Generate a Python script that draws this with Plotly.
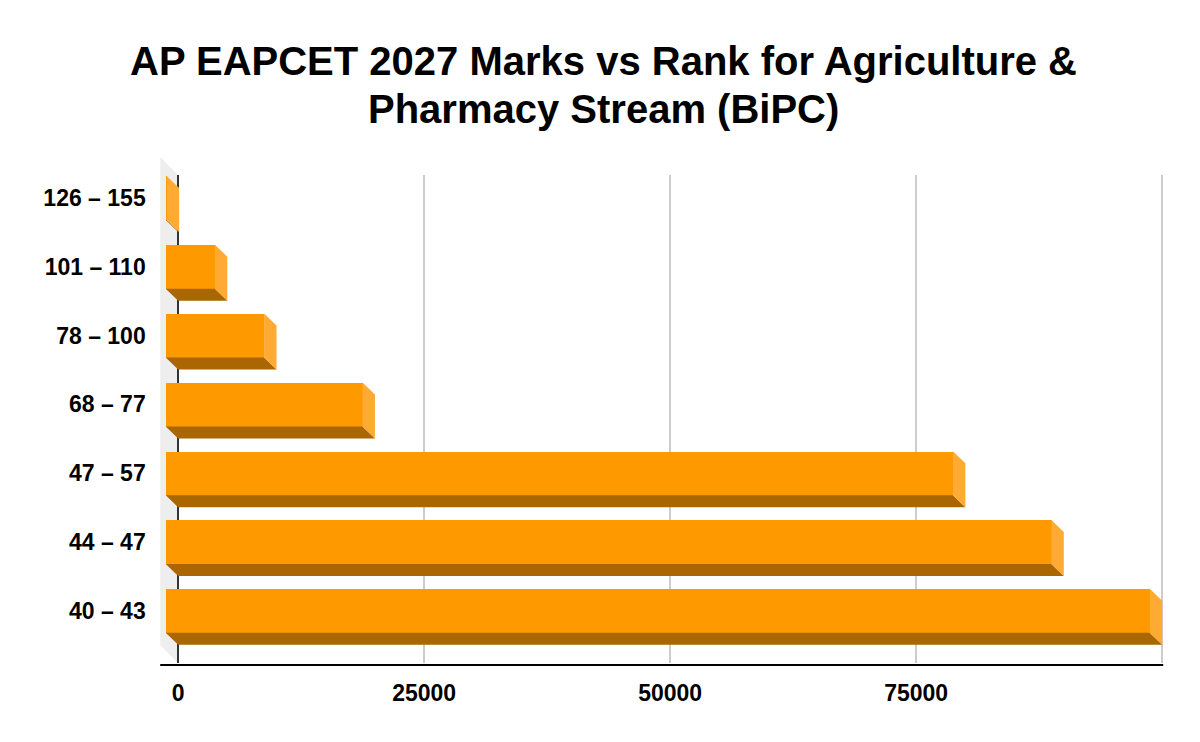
import plotly.graph_objects as go

# ---- data (bottom to top) ----
categories = ["40 – 43", "44 – 47", "47 – 57", "68 – 77", "78 – 100", "101 – 110", "126 – 155"]
ranks = [100000, 90000, 80000, 20000, 10000, 5000, 100]
x_tickvals = [0, 25000, 50000, 75000, 100000]
x_ticktext = ["0", "25000", "50000", "75000", ""]

TITLE_LINES = ["AP EAPCET 2027 Marks vs Rank for Agriculture &", "Pharmacy Stream (BiPC)"]

# ---- layout geometry (screen pixels) ----
W, H = 1200, 742
PAGE_OFF = 0                       # body margin removed via post_script
BACK_X0, BACK_X1 = 173, 1162       # back plane value axis (0 .. XMAX)
BACK_Y0, BACK_Y1 = 175, 663        # back plane vertical extent
DEPTH_X, DEPTH_Y = 12.5, 12        # 3D depth offset
FRONT_Y0, FRONT_Y1 = 163.6, 645.2  # category band (front plane)
XMAX = 100000
PAD_PX = 14                        # extra room right of XMAX
BAR_W = 0.64

FRONT_C = "#FF9900"
DARK_C = "#AA6600"
LIGHT_C = "#FFAA33"
FONT = "Arial, Liberation Sans, sans-serif"


def px(x):
    return (x - PAGE_OFF) / W


def py(y):
    return 1 - (y - PAGE_OFF) / H


ys = list(range(len(categories)))
unit_x = XMAX / (BACK_X1 - BACK_X0)           # data per pixel
ddx = DEPTH_X * unit_x
ddy = DEPTH_Y / ((FRONT_Y1 - FRONT_Y0) / len(categories))
x_hi = XMAX + PAD_PX * unit_x

# bottom (dark) faces and side (light) faces, computed from data
bx, by, sx, sy = [], [], [], []
for v, y in zip(ranks, ys):
    yb = y - BAR_W / 2
    yt = y + BAR_W / 2
    bx += [0, v, v + ddx, ddx, 0, None]
    by += [yb, yb, yb - ddy, yb - ddy, yb, None]
    sx += [v, v + ddx, v + ddx, v, v, None]
    sy += [yt, yt - ddy, yb - ddy, yb, yt, None]

fig = go.Figure()
# empty trace that activates the back-plane axes (grid + tick labels)
fig.add_trace(go.Scatter(x=[], y=[], xaxis="x", yaxis="y", mode="none",
                         hoverinfo="skip", showlegend=False))
# front plane: 3D faces and bars
fig.add_trace(go.Scatter(x=bx, y=by, xaxis="x2", yaxis="y2", fill="toself",
                         fillcolor=DARK_C, mode="none", hoverinfo="skip", showlegend=False))
fig.add_trace(go.Scatter(x=sx, y=sy, xaxis="x2", yaxis="y2", fill="toself",
                         fillcolor=LIGHT_C, mode="none", hoverinfo="skip", showlegend=False))
fig.add_trace(go.Bar(x=ranks, y=ys, xaxis="x2", yaxis="y2", orientation="h", width=BAR_W,
                     marker=dict(color=FRONT_C, line=dict(width=0)),
                     showlegend=False))

# left wall and bottom axis line (decoration)
wall = (f"M {px(155)} {py(157)} L {px(BACK_X0)} {py(BACK_Y0)} "
        f"L {px(BACK_X0)} {py(BACK_Y1)} L {px(155)} {py(BACK_Y1 - 18)} Z")
fig.add_shape(type="path", path=wall, xref="paper", yref="paper",
              fillcolor="#EEEEEE", line=dict(width=0), layer="below")
fig.add_shape(type="line", xref="paper", yref="paper",
              x0=px(155), x1=px(BACK_X1 + 1), y0=py(BACK_Y1 + 2), y1=py(BACK_Y1 + 2),
              line=dict(color="#000000", width=2))

# title (two centred lines)
for line, yc in zip(TITLE_LINES, [61, 109]):
    fig.add_annotation(text=f"<b>{line}</b>", x=px(600), y=py(yc), xref="paper", yref="paper",
                       xanchor="center", yanchor="middle", showarrow=False,
                       font=dict(family=FONT, size=40, color="#000000"))

fig.update_layout(
    width=W, height=H,
    margin=dict(l=0, r=0, t=0, b=0),
    paper_bgcolor="white", plot_bgcolor="rgba(0,0,0,0)",
    bargap=0,
    # back plane: grid, zero line, value labels
    xaxis=dict(domain=[px(BACK_X0), px(BACK_X1 + PAD_PX)], range=[0, x_hi],
               anchor="y", side="bottom",
               tickmode="array", tickvals=x_tickvals, ticktext=x_ticktext,
               showgrid=True, gridcolor="#CCCCCC", gridwidth=2,
               zeroline=True, zerolinecolor="#333333", zerolinewidth=2,
               showline=False, ticks="", ticklabelstandoff=14,
               tickfont=dict(family=FONT, size=23, color="#000000", weight="bold"),
               fixedrange=True),
    yaxis=dict(domain=[py(BACK_Y1), py(BACK_Y0)], range=[0, 1],
               anchor="x", showgrid=False, zeroline=False, showticklabels=False,
               showline=False, ticks="", fixedrange=True),
    # front plane: bars and category labels
    xaxis2=dict(domain=[px(BACK_X0 - DEPTH_X), px(BACK_X1 + PAD_PX - DEPTH_X)],
                range=[0, x_hi],
                showgrid=False, zeroline=False, showticklabels=False, showline=False,
                anchor="y2", fixedrange=True),
    yaxis2=dict(domain=[py(FRONT_Y1), py(FRONT_Y0)], range=[-0.5, len(categories) - 0.5],
                tickmode="array", tickvals=ys, ticktext=categories,
                showgrid=False, zeroline=False, showline=False, ticks="",
                ticklabelstandoff=19,
                tickfont=dict(family=FONT, size=23, color="#000000", weight="bold"),
                anchor="x2", fixedrange=True),
)

fig.write_html("out.html", config={"displayModeBar": False},
               post_script="document.body.style.margin='0';document.body.style.overflow='hidden';")
